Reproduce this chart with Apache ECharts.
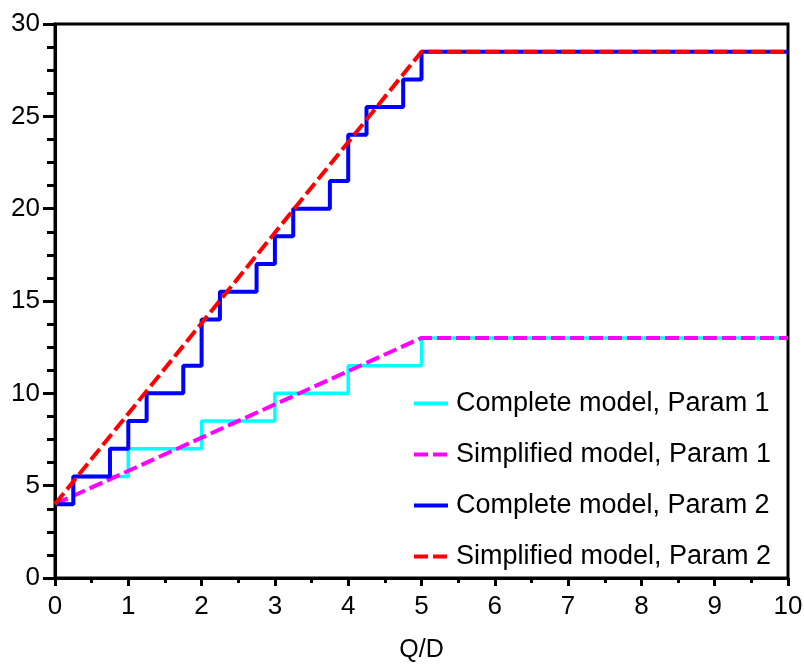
<!DOCTYPE html>
<html>
<head>
<meta charset="utf-8">
<script src="https://cdn.jsdelivr.net/npm/echarts@6/dist/echarts.min.js"></script>
<style>
  html, body { margin: 0; padding: 0; background: #fff; }
  #chart { width: 804px; height: 664px; }
</style>
</head>
<body>
<div id="chart"></div>
<script>
// step breakpoints (value holds from x until next x)
var stepX1 = [0, 0.25, 1, 2, 3, 4, 5, 10];
var stepY1 = [4, 5.5, 7, 8.5, 10, 11.5, 13, 13];
var stepX2 = [0, 0.25, 0.75, 1, 1.25, 1.75, 2, 2.25, 2.75, 3, 3.25, 3.75, 4, 4.25, 4.75, 5, 10];
var stepY2 = [4, 5.5, 7, 8.5, 10, 11.5, 14, 15.5, 17, 18.5, 20, 21.5, 24, 25.5, 27, 28.5, 28.5];
// simplified model (straight ramp then flat)
var simpX = [0, 5, 10];
var simpY1 = [4, 13, 13];
var simpY2 = [4, 28.5, 28.5];
var names = [
  "Complete model, Param 1",
  "Simplified model, Param 1",
  "Complete model, Param 2",
  "Simplified model, Param 2"
];

function pairs(xs, ys) {
  var out = [];
  for (var i = 0; i < xs.length; i++) {
    out.push([xs[i], ys[i]]);
  }
  return out;
}

var font = "Liberation Sans, Arial, sans-serif";
var chart = echarts.init(document.getElementById("chart"));

var option = {
  animation: false,
  grid: {
    left: 55,
    right: 16,
    top: 24,
    bottom: 86,
    containLabel: false,
    outerBoundsMode: "none",
    show: true,
    borderColor: "#000",
    borderWidth: 3
  },
  legend: {
    orient: "vertical",
    left: 407,
    top: 385,
    itemWidth: 34,
    itemHeight: 14,
    itemGap: 24,
    // hide the round marker, keep only the line sample
    itemStyle: { opacity: 0 },
    lineStyle: { width: 4 },
    textStyle: { fontFamily: font, fontSize: 27, color: "#000", lineHeight: 27, padding: [0, 0, 0, 3] },
    data: names
  },
  xAxis: {
    type: "value",
    min: 0,
    max: 10,
    interval: 1,
    name: "Q/D",
    nameLocation: "middle",
    nameGap: 60,
    nameTextStyle: { fontFamily: font, fontSize: 25, color: "#000", verticalAlign: "top" },
    axisLine: { lineStyle: { color: "#000", width: 3 } },
    axisTick: { show: true, length: 8, lineStyle: { color: "#000", width: 3 } },
    minorTick: { show: true, splitNumber: 2, length: 5, lineStyle: { color: "#000", width: 3 } },
    axisLabel: { fontFamily: font, fontSize: 26, color: "#000", margin: 16 },
    splitLine: { show: false }
  },
  yAxis: {
    type: "value",
    min: 0,
    max: 30,
    interval: 5,
    axisLine: { show: true, lineStyle: { color: "#000", width: 3 } },
    axisTick: { show: true, length: 12, lineStyle: { color: "#000", width: 3 } },
    minorTick: { show: true, splitNumber: 4, length: 8, lineStyle: { color: "#000", width: 3 } },
    axisLabel: { fontFamily: font, fontSize: 26, color: "#000", margin: 15 },
    splitLine: { show: false }
  },
  series: [
    {
      name: names[0],
      type: "line",
      step: "end",
      symbol: "none",
      lineStyle: { color: "#00FFFF", width: 3.5 },
      itemStyle: { color: "#00FFFF" },
      data: pairs(stepX1, stepY1)
    },
    {
      name: names[1],
      type: "line",
      symbol: "none",
      lineStyle: { color: "#FF00FF", width: 4, type: [14, 5] },
      itemStyle: { color: "#FF00FF" },
      data: pairs(simpX, simpY1)
    },
    {
      name: names[2],
      type: "line",
      step: "end",
      symbol: "none",
      lineStyle: { color: "#0000FF", width: 4 },
      itemStyle: { color: "#0000FF" },
      data: pairs(stepX2, stepY2)
    },
    {
      name: names[3],
      type: "line",
      symbol: "none",
      lineStyle: { color: "#FF0000", width: 4, type: [14, 5] },
      itemStyle: { color: "#FF0000" },
      data: pairs(simpX, simpY2)
    }
  ]
};

chart.setOption(option);
</script>
</body>
</html>
